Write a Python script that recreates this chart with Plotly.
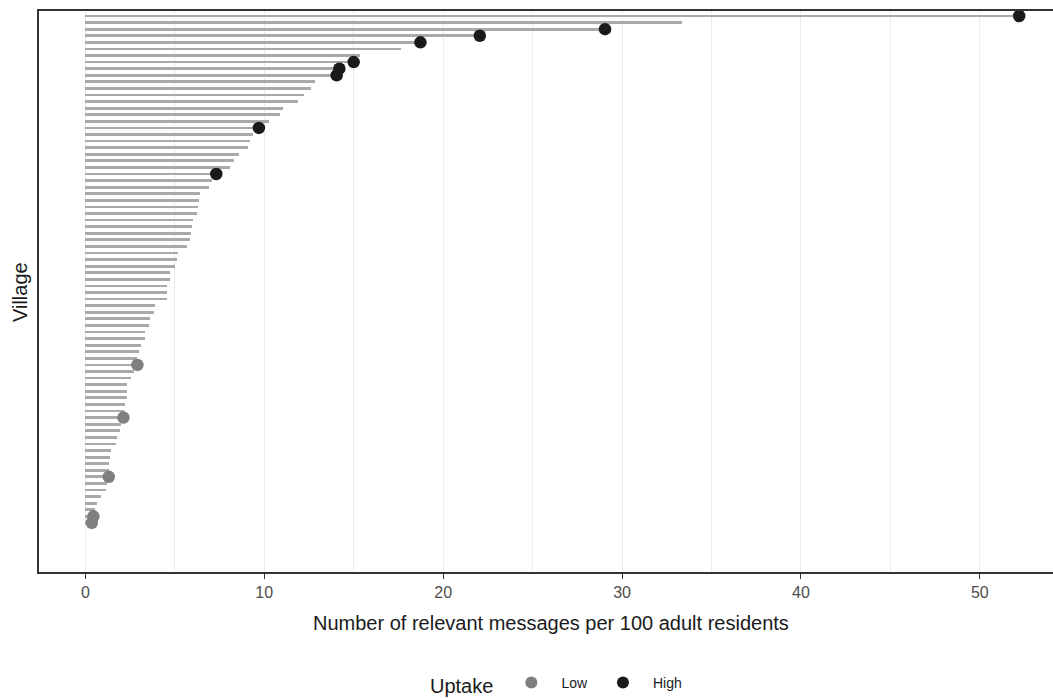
import plotly.graph_objects as go

# Villages ranked from top (1) to bottom (78)
village_rank = list(range(1, 79))
messages_per_100 = [
    52.2, 33.35, 29.05, 22.05, 18.73, 17.67, 15.35, 15.0, 14.2, 14.05,
    12.86, 12.6, 12.25, 11.87, 11.03, 10.88, 10.29, 9.7, 9.39, 9.22,
    9.08, 8.59, 8.33, 8.11, 7.32, 7.06, 6.92, 6.41, 6.37, 6.32,
    6.23, 6.02, 5.98, 5.91, 5.87, 5.67, 5.20, 5.13, 5.00, 4.73,
    4.71, 4.57, 4.55, 4.55, 3.90, 3.82, 3.62, 3.56, 3.34, 3.34,
    3.11, 2.98, 2.91, 2.91, 2.74, 2.54, 2.35, 2.31, 2.31, 2.22,
    2.16, 2.13, 1.98, 1.92, 1.77, 1.70, 1.44, 1.40, 1.34, 1.33,
    1.31, 1.21, 1.14, 0.88, 0.64, 0.54, 0.45, 0.36,
]
# Uptake status for surveyed villages (rank -> status)
uptake = {1: "High", 3: "High", 4: "High", 5: "High", 8: "High", 9: "High",
          10: "High", 18: "High", 25: "High",
          54: "Low", 62: "Low", 71: "Low", 77: "Low", 78: "Low"}

uptake_levels = ["Low", "High"]
uptake_colors = {"Low": "#7f7f7f", "High": "#1a1a1a"}

FONT = "Liberation Sans, Arial, sans-serif"

fig = go.Figure()

fig.add_trace(go.Bar(
    x=messages_per_100, y=village_rank, orientation="h",
    width=0.42, marker=dict(color="#a9a9ab", line=dict(width=0)),
    showlegend=False, hoverinfo="skip",
))

for lvl in uptake_levels:
    ranks = [r for r, s in uptake.items() if s == lvl]
    fig.add_trace(go.Scatter(
        x=[messages_per_100[r - 1] for r in ranks], y=ranks,
        mode="markers", name=lvl,
        marker=dict(color=uptake_colors[lvl], size=12.5, line=dict(width=0)),
    ))

fig.update_layout(
    width=1053, height=698,
    margin=dict(l=39, r=0, t=11, b=126),
    plot_bgcolor="white", paper_bgcolor="white",
    font=dict(family=FONT, color="#1a1a1a"),
    bargap=0,
    legend=dict(
        orientation="h", xref="container", yref="container",
        x=428 / 1053, xanchor="left", y=1 - 685 / 698, yanchor="middle",
        title=dict(text="Uptake", font=dict(size=20, color="#1a1a1a")),
        font=dict(size=14, color="#1a1a1a"),
        itemsizing="constant", itemwidth=50,
    ),
    annotations=[
        dict(text="Number of relevant messages per 100 adult residents",
             xref="paper", yref="paper", x=(551 - 39) / 1014, y=(572 - 623) / 561,
             xanchor="center", yanchor="middle", showarrow=False,
             font=dict(size=20, color="#1a1a1a")),
        dict(text="Village", textangle=-90,
             xref="paper", yref="paper", x=(20 - 39) / 1014, y=(572 - 292) / 561,
             xanchor="center", yanchor="middle", showarrow=False,
             font=dict(size=20, color="#1a1a1a")),
    ],
)

fig.update_xaxes(
    range=[-2.59, 54.09], dtick=10, tick0=0,
    showgrid=True, gridcolor="#ebebeb", gridwidth=1,
    minor=dict(dtick=5, showgrid=True, gridcolor="#ebebeb", gridwidth=1),
    showline=True, linecolor="#333333", linewidth=1.5, mirror=True,
    ticks="outside", ticklen=5, tickcolor="#333333", tickwidth=1,
    tickfont=dict(size=16, color="#4d4d4d"),
    zeroline=False,
)
fig.update_yaxes(
    range=[85.45, 0.24], showgrid=False, zeroline=False,
    showticklabels=False, ticks="",
    showline=True, linecolor="#333333", linewidth=1.5,
)

fig.write_html("out.html")
